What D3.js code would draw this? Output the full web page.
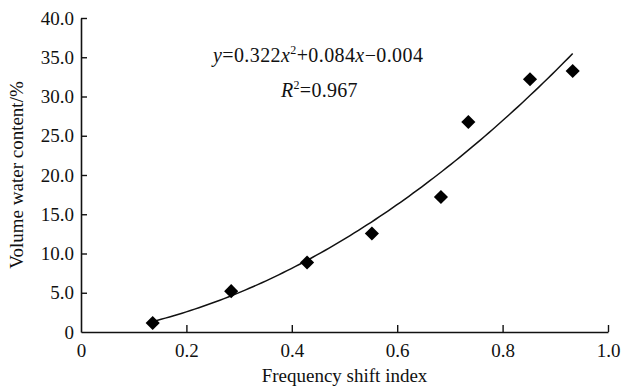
<!DOCTYPE html>
<html>
<head>
<meta charset="utf-8">
<script src="https://cdn.jsdelivr.net/npm/d3@7"></script>
<style>
  body { margin: 0; background: #fff; }
  svg { font-family: "Liberation Serif", "Times New Roman", serif; }
</style>
</head>
<body>
<div id="chart"></div>
<script>
// measured points
const shiftIndex = [0.136, 0.285, 0.429, 0.552, 0.683, 0.735, 0.852, 0.933];
const waterContent = [1.15, 5.2, 8.85, 12.55, 17.2, 26.75, 32.2, 33.25];

// fitted curve y = a x^2 + b x + c (fraction), shown in %
const fitCoef = [0.322, 0.084, -0.004];
const fitRange = [0.136, 0.933];

const xTicks = [0, 0.2, 0.4, 0.6, 0.8, 1.0];
const yTicks = [0, 5, 10, 15, 20, 25, 30, 35, 40];

const width = 622, height = 389;
const margin = { top: 18, right: 14, bottom: 57, left: 81 };
const fs = 19;

const svg = d3.select('#chart')
  .append('svg')
  .attr('width', width)
  .attr('height', height);

const x = d3.scaleLinear()
  .domain([0, 1])
  .range([margin.left, width - margin.right]);

const y = d3.scaleLinear()
  .domain([0, 40])
  .range([height - margin.bottom, margin.top]);

const fmt = d => d === 0 ? '0' : d3.format('.1f')(d);

// x axis
const xAxis = svg.append('g')
  .attr('transform', `translate(0,${y(0)})`)
  .call(d3.axisBottom(x).tickValues(xTicks).tickSizeInner(-7).tickSizeOuter(0).tickFormat(fmt));
xAxis.select('.domain').attr('stroke', '#111').attr('stroke-width', 1.6);
xAxis.selectAll('.tick line').attr('stroke', '#111').attr('stroke-width', 1.4);
xAxis.selectAll('.tick').filter(d => d === 0).select('line').remove();
xAxis.selectAll('.tick text')
  .attr('y', 12)
  .attr('font-size', fs)
  .attr('font-family', '"Liberation Serif", serif')
  .attr('fill', '#111');

// y axis
const yAxis = svg.append('g')
  .attr('transform', `translate(${x(0)},0)`)
  .call(d3.axisLeft(y).tickValues(yTicks).tickSizeInner(-6).tickSizeOuter(0).tickFormat(fmt));
yAxis.select('.domain').attr('stroke', '#111').attr('stroke-width', 1.6);
yAxis.selectAll('.tick line').attr('stroke', '#111').attr('stroke-width', 1.4);
yAxis.selectAll('.tick').filter(d => d === 0).select('line').remove();
yAxis.selectAll('.tick text')
  .attr('x', -7)
  .attr('font-size', fs)
  .attr('font-family', '"Liberation Serif", serif')
  .attr('fill', '#111');

// fit curve
const curvePts = d3.range(0, 101).map(i => {
  const xv = fitRange[0] + (fitRange[1] - fitRange[0]) * i / 100;
  return [xv, (fitCoef[0] * xv * xv + fitCoef[1] * xv + fitCoef[2]) * 100];
});
svg.append('path')
  .datum(curvePts)
  .attr('fill', 'none')
  .attr('stroke', '#111')
  .attr('stroke-width', 1.5)
  .attr('d', d3.line().x(d => x(d[0])).y(d => y(d[1])));

// diamonds
svg.append('g')
  .selectAll('path')
  .data(shiftIndex.map((v, i) => [v, waterContent[i]]))
  .enter().append('path')
  .attr('transform', d => `translate(${x(d[0])},${y(d[1])}) rotate(45)`)
  .attr('d', d3.symbol().type(d3.symbolSquare).size(100))
  .attr('fill', '#000');

// equation
const eq = svg.append('text')
  .attr('x', 213)
  .attr('y', 62)
  .attr('font-size', 20)
  .attr('letter-spacing', 0.4)
  .attr('fill', '#111');
eq.append('tspan').attr('font-style', 'italic').text('y');
eq.append('tspan').text('=0.322');
eq.append('tspan').attr('font-style', 'italic').text('x');
eq.append('tspan').attr('font-size', 12).attr('dy', -8).text('2');
eq.append('tspan').attr('dy', 8).text('+0.084');
eq.append('tspan').attr('font-style', 'italic').text('x');
eq.append('tspan').text('\u22120.004');

const r2 = svg.append('text')
  .attr('x', 281)
  .attr('y', 97)
  .attr('font-size', 20)
  .attr('letter-spacing', 0.3)
  .attr('fill', '#111');
r2.append('tspan').attr('font-style', 'italic').text('R');
r2.append('tspan').attr('font-size', 12).attr('dy', -8).text('2');
r2.append('tspan').attr('dy', 8).text('=0.967');

// axis titles
svg.append('text')
  .attr('x', (x(0) + x(1)) / 2)
  .attr('y', 382)
  .attr('text-anchor', 'middle')
  .attr('font-size', fs)
  .attr('fill', '#111')
  .text('Frequency shift index');

svg.append('text')
  .attr('transform', `translate(23,${(y(0) + y(40)) / 2}) rotate(-90)`)
  .attr('text-anchor', 'middle')
  .attr('font-size', fs)
  .attr('fill', '#111')
  .text('Volume water content/%');
</script>
</body>
</html>
